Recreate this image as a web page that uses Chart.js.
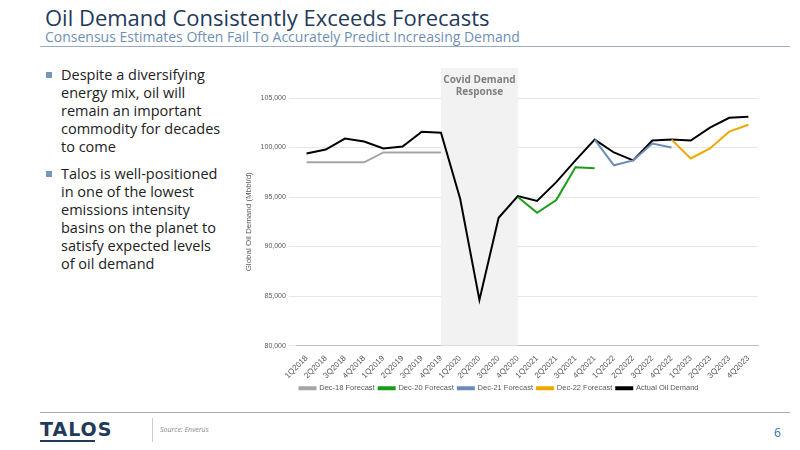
<!DOCTYPE html>
<html><head><meta charset="utf-8">
<script src="https://cdn.jsdelivr.net/npm/chart.js"></script>
<style>
body{margin:0;width:800px;height:450px;background:#fff;font-family:"Open Sans","Noto Sans",sans-serif;position:relative;overflow:hidden}
#t{position:absolute;left:45px;top:2px;font-size:22px;color:#1f3a5a;white-space:nowrap}
#s{position:absolute;left:45px;top:27px;font-size:14px;color:#6f8fb5;white-space:nowrap}
#hl{position:absolute;left:40px;top:46px;width:750px;height:1px;background:#9aaabf}
#b{position:absolute;left:45px;top:66px;width:180px;font-size:14.5px;line-height:18px;color:#222}
#b div{position:relative;padding-left:16px;margin-bottom:9px}
#b div:before{content:"";position:absolute;left:1px;top:6px;width:6px;height:6px;background:#7a95bb}
#fl{position:absolute;left:40px;top:412px;width:750px;height:1px;background:#9aaabf}
#logo{position:absolute;left:40px;top:418px;font-family:"DejaVu Sans";font-weight:bold;font-size:19px;color:#1f3a5a;letter-spacing:1px}
#lb{position:absolute;left:40px;top:440px;width:55px;height:2px;background:#1f3a5a}
#sep{position:absolute;left:152px;top:418px;width:1px;height:24px;background:#ccc}
#src{position:absolute;left:160px;top:425px;font-size:7px;font-style:italic;color:#888}
#pg{position:absolute;left:774px;top:424px;font-size:12px;color:#2f6fb0}
#c{position:absolute;left:240px;top:60px;width:540px;height:342px}
</style></head><body>
<div id="t">Oil Demand Consistently Exceeds Forecasts</div>
<div id="s">Consensus Estimates Often Fail To Accurately Predict Increasing Demand</div>
<div id="hl"></div>
<div id="b"><div>Despite a diversifying energy mix, oil will remain an important commodity for decades to come</div><div>Talos is well-positioned in one of the lowest emissions intensity basins on the planet to satisfy expected levels of oil demand</div></div>
<div id="fl"></div><div id="logo">TALOS</div><div id="lb"></div><div id="sep"></div>
<div id="src">Source: Enverus</div><div id="pg">6</div>
<div id="c"><canvas id="cv"></canvas></div>
<script>
const categories=["1Q2018","2Q2018","3Q2018","4Q2018","1Q2019","2Q2019","3Q2019","4Q2019","1Q2020","2Q2020","3Q2020","4Q2020","1Q2021","2Q2021","3Q2021","4Q2021","1Q2022","2Q2022","3Q2022","4Q2022","1Q2023","2Q2023","3Q2023","4Q2023"];
const actual=[99400,99800,100900,100600,99900,100100,101600,101500,94800,84600,92900,95100,94600,96500,98700,100800,99500,98700,100700,100800,100700,102000,103000,103100];
const dec18=[98500,98500,98500,98500,99500,99500,99500,99500,null,null,null,null,null,null,null,null,null,null,null,null,null,null,null,null];
const dec20=[null,null,null,null,null,null,null,null,null,null,null,95000,93400,94700,98000,97900,null,null,null,null,null,null,null,null];
const dec21=[null,null,null,null,null,null,null,null,null,null,null,null,null,null,null,100800,98200,98700,100400,100000,null,null,null,null];
const dec22=[null,null,null,null,null,null,null,null,null,null,null,null,null,null,null,null,null,null,null,100800,98900,99900,101600,102300];
const shadeFrom=7, shadeTo=11;
const shade={id:'shade',beforeDatasetsDraw(ch){const x=ch.scales.x,a=ch.chartArea,c=ch.ctx;const x1=x.getPixelForValue(shadeFrom),x2=x.getPixelForValue(shadeTo);
c.save();c.fillStyle='#f2f2f2';c.fillRect(x1,8,x2-x1,a.bottom-8);c.fillStyle='#7f7f7f';c.font='bold 10px "Open Sans"';c.textAlign='center';
c.fillText('Covid Demand',(x1+x2)/2,20);c.fillText('Response',(x1+x2)/2,32);c.restore();}};
const ds=(l,d,col)=>({label:l,data:d,borderColor:col,backgroundColor:col,borderWidth:2,pointRadius:0,tension:0,spanGaps:false});
new Chart(document.getElementById('cv'),{type:'line',plugins:[shade],
data:{labels:categories,datasets:[ds('Dec-18 Forecast',dec18,'#a5a5a5'),ds('Dec-20 Forecast',dec20,'#1a9e1a'),ds('Dec-21 Forecast',dec21,'#6b8cba'),ds('Dec-22 Forecast',dec22,'#f0a800'),ds('Actual Oil Demand',actual,'#000')]},
options:{responsive:true,maintainAspectRatio:false,animation:false,layout:{padding:{top:38,right:22,bottom:0}},
plugins:{legend:{position:'bottom',labels:{boxWidth:16,boxHeight:2,font:{size:7.5},color:'#595959',padding:4}},tooltip:{enabled:false}},
scales:{x:{offset:true,grid:{display:false},border:{color:'#bfbfbf'},ticks:{maxRotation:45,minRotation:45,autoSkip:false,font:{size:8},color:'#595959',padding:0}},
y:{min:80000,max:105000,ticks:{stepSize:5000,font:{size:7},color:'#595959',callback:v=>v.toLocaleString('en-US')},grid:{color:'#e6e6e6'},border:{display:false},
title:{display:true,text:'Global Oil Demand (Mbbl/d)',font:{size:8},color:'#595959'}}}}});
</script></body></html>
